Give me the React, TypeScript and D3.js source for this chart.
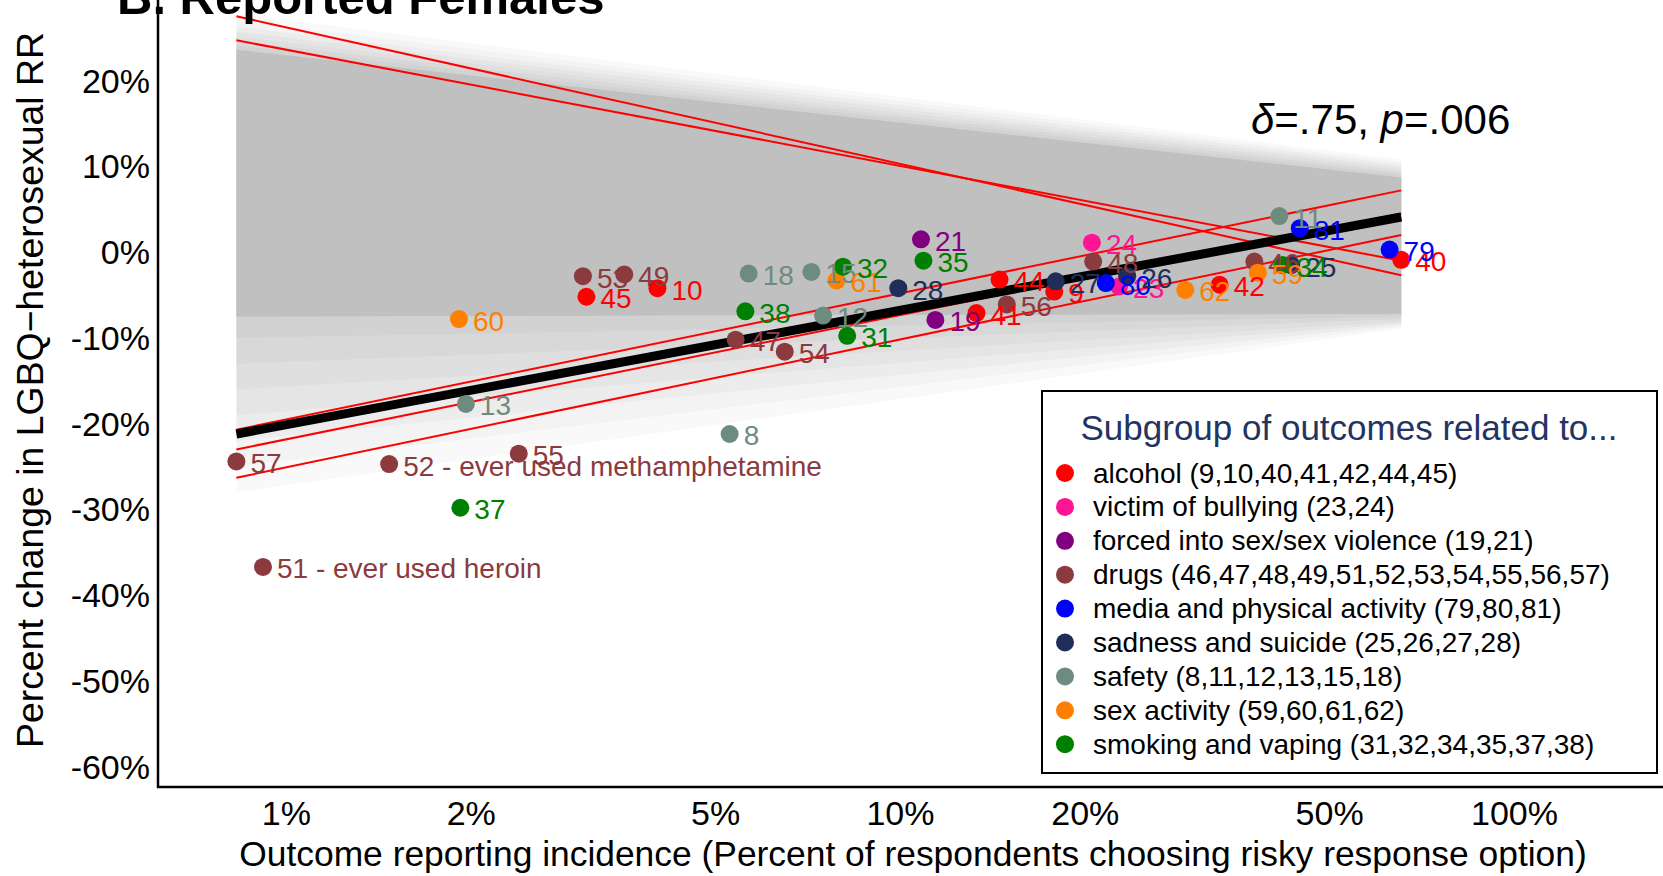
import React from "react";
import * as d3 from "d3";

type Pt = { id: number; x: number; y: number; note?: string };

const W = 1663;
const H = 876;

const groupNames = [
  "alcohol (9,10,40,41,42,44,45)",
  "victim of bullying (23,24)",
  "forced into sex/sex violence (19,21)",
  "drugs (46,47,48,49,51,52,53,54,55,56,57)",
  "media and physical activity (79,80,81)",
  "sadness and suicide (25,26,27,28)",
  "safety (8,11,12,13,15,18)",
  "sex activity (59,60,61,62)",
  "smoking and vaping (31,32,34,35,37,38)",
];
const groupColors = [
  "#ff0000",
  "#ff1493",
  "#800080",
  "#8b3a3e",
  "#0000ff",
  "#1f2d58",
  "#6e8b7f",
  "#ff8000",
  "#008000",
];

// x = outcome reporting incidence (%), y = percent change in RR (%)
const alcohol: Pt[] = [
  { id: 9, x: 17.8, y: -4.6 },
  { id: 10, x: 4.02, y: -4.2 },
  { id: 40, x: 65.4, y: -0.9 },
  { id: 41, x: 13.3, y: -7.1 },
  { id: 42, x: 33.1, y: -3.8 },
  { id: 44, x: 14.5, y: -3.2 },
  { id: 45, x: 3.08, y: -5.2 },
];
const bullying: Pt[] = [
  { id: 23, x: 22.7, y: -4.0 },
  { id: 24, x: 20.5, y: 1.1 },
];
const forced: Pt[] = [
  { id: 19, x: 11.4, y: -7.9 },
  { id: 21, x: 10.8, y: 1.5 },
];
const drugs: Pt[] = [
  { id: 46, x: 37.7, y: -1.1 },
  { id: 47, x: 5.39, y: -10.2 },
  { id: 48, x: 20.6, y: -1.1 },
  { id: 49, x: 3.55, y: -2.6 },
  { id: 51, x: 0.916, y: -36.7, note: " - ever used heroin" },
  { id: 52, x: 1.47, y: -24.7, note: " - ever used methamphetamine" },
  { id: 53, x: 3.04, y: -2.8 },
  { id: 54, x: 6.48, y: -11.6 },
  { id: 55, x: 2.39, y: -23.5 },
  { id: 56, x: 14.9, y: -6.1 },
  { id: 57, x: 0.829, y: -24.4 },
];
const media: Pt[] = [
  { id: 79, x: 62.6, y: 0.3 },
  { id: 80, x: 21.6, y: -3.6 },
  { id: 81, x: 44.7, y: 2.8 },
];
const sadness: Pt[] = [
  { id: 25, x: 43.3, y: -1.5 },
  { id: 26, x: 23.4, y: -2.8 },
  { id: 27, x: 17.9, y: -3.4 },
  { id: 28, x: 9.92, y: -4.2 },
];
const safety: Pt[] = [
  { id: 8, x: 5.27, y: -21.2 },
  { id: 11, x: 41.4, y: 4.2 },
  { id: 12, x: 7.48, y: -7.4 },
  { id: 13, x: 1.96, y: -17.7 },
  { id: 15, x: 7.16, y: -2.3 },
  { id: 18, x: 5.66, y: -2.5 },
];
const sexActivity: Pt[] = [
  { id: 59, x: 38.2, y: -2.4 },
  { id: 60, x: 1.91, y: -7.8 },
  { id: 61, x: 7.87, y: -3.3 },
  { id: 62, x: 29.1, y: -4.4 },
];
const smoking: Pt[] = [
  { id: 31, x: 8.19, y: -9.75 },
  { id: 32, x: 8.06, y: -1.7 },
  { id: 34, x: 41.9, y: -1.5 },
  { id: 35, x: 10.9, y: -1.0 },
  { id: 37, x: 1.92, y: -29.8 },
  { id: 38, x: 5.59, y: -6.9 },
];
const groups = [alcohol, bullying, forced, drugs, media, sadness, safety, sexActivity, smoking];

const xTicks = [1, 2, 5, 10, 20, 50, 100];
const yTicks = [20, 10, 0, -10, -20, -30, -40, -50, -60];

// fitted line (value at lowest and highest incidence)
const fitStart = -21.2;
const fitEnd = 4.1;
// red reference lines (value at lowest / highest incidence)
const redStart = [-20.7, -23.0, -26.3, 27.5, 24.7];
const redEnd = [7.2, 4.5, 2.0, -2.7, -1.0];
// null-distribution band layers (outer → inner)
const bandLeftLo = [-28, -25, -22, -19, -16, -13, -10, -7.5];
const bandLeftHi = [27.8, 27, 26.3, 25.7, 25.1, 24.6, 24.1, 23.6];
const bandRightLo = [-8.9, -8.7, -8.5, -8.3, -8.1, -7.8, -7.5, -7.2];
const bandRightHi = [10.8, 10.5, 10.2, 9.9, 9.6, 9.3, 9.0, 8.7];
const bandOpacity = [0.1, 0.1, 0.12, 0.14, 0.16, 0.2, 0.25, 1];

const FONT = "'Liberation Sans', Arial, Helvetica, sans-serif";

export default function App() {
  const x = d3.scaleLog().domain([1, 100]).range([286.4, 1514.5]);
  const y = d3.scaleLinear().domain([-60, 20]).range([766.8, 80.6]);
  const all = groups.flat();
  const x0 = d3.min(all, (d) => d.x) as number;
  const x1 = d3.max(all, (d) => d.x) as number;
  const line = d3
    .line<[number, number]>()
    .x((d) => x(d[0]))
    .y((d) => y(d[1]));
  const area = (i: number) =>
    `M${x(x0)},${y(bandLeftHi[i])}L${x(x1)},${y(bandRightHi[i])}L${x(x1)},${y(
      bandRightLo[i]
    )}L${x(x0)},${y(bandLeftLo[i])}Z`;

  return (
    <svg
      width={W}
      height={H}
      style={{ position: "absolute", left: 0, top: 0, background: "#fff" }}
      fontFamily={FONT}
    >
      <rect x={0} y={0} width={W} height={H} fill="#fff" />
      {/* null band */}
      {bandOpacity.map((o, i) => (
        <path key={"b" + i} d={area(i)} fill="#c0c0c0" opacity={o} />
      ))}
      {/* red lines */}
      {redStart.map((s, i) => (
        <path
          key={"r" + i}
          d={line([
            [x0, s],
            [x1, redEnd[i]],
          ]) as string}
          stroke="#ff0000"
          strokeWidth={2}
          fill="none"
        />
      ))}
      {/* fit line */}
      <path
        d={line([
          [x0, fitStart],
          [x1, fitEnd],
        ]) as string}
        stroke="#000"
        strokeWidth={9}
        fill="none"
      />
      {/* axes */}
      <line x1={158} y1={0} x2={158} y2={788} stroke="#000" strokeWidth={2.5} />
      <line x1={157} y1={787} x2={W} y2={787} stroke="#000" strokeWidth={2.5} />
      {yTicks.map((t) => (
        <text
          key={"yt" + t}
          x={150}
          y={y(t)}
          textAnchor="end"
          dominantBaseline="central"
          fontSize={34}
          fill="#000"
        >
          {t + "%"}
        </text>
      ))}
      {xTicks.map((t) => (
        <text
          key={"xt" + t}
          x={x(t)}
          y={813}
          textAnchor="middle"
          dominantBaseline="central"
          fontSize={34}
          fill="#000"
        >
          {t + "%"}
        </text>
      ))}
      <text
        x={913}
        y={854}
        textAnchor="middle"
        dominantBaseline="central"
        fontSize={35.4}
        fill="#000"
      >
        Outcome reporting incidence (Percent of respondents choosing risky response option)
      </text>
      <text
        transform="translate(30,390) rotate(-90)"
        textAnchor="middle"
        dominantBaseline="central"
        fontSize={37.4}
        fill="#000"
      >
        Percent change in LGBQ−heterosexual RR
      </text>
      {/* title */}
      <text x={117} y={14} fontSize={49} fontWeight="bold" fill="#000">
        B. Reported Females
      </text>
      {/* annotation */}
      <text x={1251} y={134} fontSize={42} fill="#000">
        <tspan fontStyle="italic">δ</tspan>
        <tspan>=.75, </tspan>
        <tspan fontStyle="italic">p</tspan>
        <tspan>=.006</tspan>
      </text>
      {/* points */}
      {groups.map((g, gi) =>
        g.map((p) => (
          <circle key={"p" + p.id} cx={x(p.x)} cy={y(p.y)} r={9} fill={groupColors[gi]} />
        ))
      )}
      {groups.map((g, gi) =>
        g.map((p) => (
          <text
            key={"l" + p.id}
            x={x(p.x) + 14}
            y={y(p.y) + 2}
            dominantBaseline="central"
            fontSize={28}
            fill={groupColors[gi]}
          >
            {String(p.id) + (p.note ?? "")}
          </text>
        ))
      )}
      {/* legend */}
      <rect x={1042} y={391} width={615} height={382} fill="#fff" stroke="#000" strokeWidth={2} />
      <text
        x={1349}
        y={427}
        textAnchor="middle"
        dominantBaseline="central"
        fontSize={35}
        fill="#243462"
      >
        Subgroup of outcomes related to...
      </text>
      {groupNames.map((n, i) => (
        <g key={"lg" + i}>
          <circle cx={1065} cy={473 + i * 33.9} r={9} fill={groupColors[i]} />
          <text x={1093} y={473 + i * 33.9} dominantBaseline="central" fontSize={28} fill="#000">
            {n}
          </text>
        </g>
      ))}
    </svg>
  );
}
